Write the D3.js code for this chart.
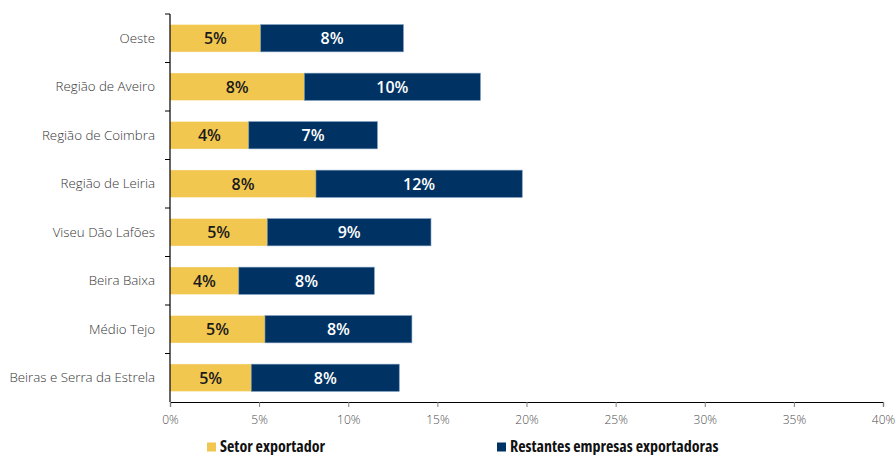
<!DOCTYPE html>
<html>
<head>
<meta charset="utf-8">
<script src="https://cdn.jsdelivr.net/npm/d3@7"></script>
<style>
  body { margin: 0; background: #fff; }
  svg { display: block; }
  .cat { font-family: "Open Sans", sans-serif; font-size: 13.3px; font-weight: 300; fill: #363636; }
  .tick-x { font-family: "Open Sans", sans-serif; font-size: 12px; font-weight: 300; fill: #4d4d4d; }
  .val { font-family: "Open Sans", sans-serif; font-size: 16px; font-weight: 600; }
  .leg { font-family: "Open Sans", "Liberation Sans Narrow", sans-serif; font-stretch: condensed; font-size: 16px; font-weight: 700; fill: #111; }
</style>
</head>
<body>
<svg id="chart" width="896" height="455"></svg>
<script>
// Regions (top to bottom)
const regions = [
  "Oeste",
  "Região de Aveiro",
  "Região de Coimbra",
  "Região de Leiria",
  "Viseu Dão Lafões",
  "Beira Baixa",
  "Médio Tejo",
  "Beiras e Serra da Estrela"
];
// Share of the exporting sector (%)
const setorExportador = [5.09, 7.54, 4.42, 8.19, 5.46, 3.86, 5.33, 4.56];
// Share of the remaining exporting firms (%)
const restantesExportadoras = [8.00, 9.87, 7.21, 11.57, 9.18, 7.60, 8.24, 8.30];
// X axis ticks (%)
const xTicks = [0, 5, 10, 15, 20, 25, 30, 35, 40];
// Series names and colours
const seriesNames = ["Setor exportador", "Restantes empresas exportadoras"];
const seriesColors = ["#F2C750", "#003363"];

const svg = d3.select("#chart");
const margin = { left: 170, right: 13, top: 14, bottom: 53 };
const W = 896, H = 455;

const x = d3.scaleLinear().domain([0, 40]).range([margin.left, W - margin.right]);
const y = d3.scaleBand().domain(regions).range([margin.top, H - margin.bottom])
  .paddingInner(0.44).paddingOuter(0.22);

const rows = regions.map((r, i) => ({ region: r, a: setorExportador[i], b: restantesExportadoras[i] }));
const fmt = v => d3.format(".0f")(v) + "%";

// Bars
const g = svg.append("g");
rows.forEach(d => {
  const yy = y(d.region), h = y.bandwidth();
  g.append("rect").attr("x", x(0)).attr("y", yy)
    .attr("width", x(d.a) - x(0)).attr("height", h)
    .attr("fill", seriesColors[0]);
  g.append("rect").attr("x", x(d.a)).attr("y", yy)
    .attr("width", x(d.a + d.b) - x(d.a)).attr("height", h)
    .attr("fill", seriesColors[1]).attr("stroke", "#6d8fb5").attr("stroke-width", 0.6);
  g.append("text").attr("class", "val")
    .attr("x", (x(0) + x(d.a)) / 2).attr("y", yy + h / 2)
    .attr("text-anchor", "middle").attr("dy", "0.36em")
    .attr("fill", "#1a1a1a").text(fmt(d.a));
  g.append("text").attr("class", "val")
    .attr("x", (x(d.a) + x(d.a + d.b)) / 2).attr("y", yy + h / 2)
    .attr("text-anchor", "middle").attr("dy", "0.36em")
    .attr("fill", "#ffffff").text(fmt(d.b));
});

// Y axis: line with separator ticks between categories
const y0 = margin.top, y1 = H - margin.bottom;
svg.append("line").attr("x1", x(0)).attr("x2", x(0)).attr("y1", y0).attr("y2", y1)
  .attr("stroke", "#000").attr("stroke-width", 1.2);
const step = y.step();
d3.range(regions.length).forEach(i => {
  const yy = y0 + i * step;
  svg.append("line").attr("x1", x(0) - 5).attr("x2", x(0)).attr("y1", yy).attr("y2", yy)
    .attr("stroke", "#000").attr("stroke-width", 1);
});
svg.append("g").selectAll("text").data(regions).join("text")
  .attr("class", "cat")
  .attr("x", 155).attr("y", d => y(d) + y.bandwidth() / 2)
  .attr("dy", "0.35em").attr("text-anchor", "end").text(d => d);

// X axis
const xAxis = d3.axisBottom(x).tickValues(xTicks).tickFormat(d => d + "%").tickSize(5).tickPadding(8);
const gx = svg.append("g").attr("transform", `translate(0,${y1})`).call(xAxis);
gx.select(".domain").attr("stroke", "#000").attr("stroke-width", 1.2);
gx.selectAll(".tick line").attr("stroke", "#7f7f7f");
gx.selectAll(".tick text").attr("class", "tick-x").attr("fill", null);

// Legend along the bottom edge
const legendX = [207, 497];
seriesNames.forEach((n, i) => {
  svg.append("rect").attr("x", legendX[i]).attr("y", 442.5).attr("width", 9).attr("height", 9)
    .attr("fill", seriesColors[i]);
  svg.append("text").attr("class", "leg").attr("x", legendX[i] + 13).attr("y", 451.5).text(n);
});
</script>
</body>
</html>
